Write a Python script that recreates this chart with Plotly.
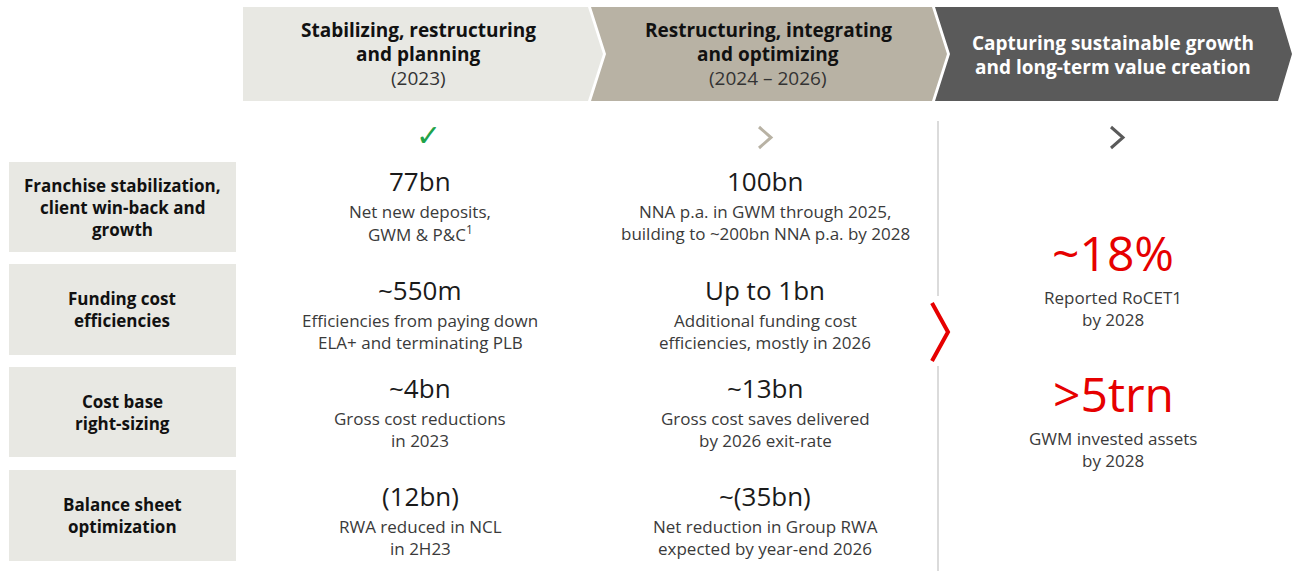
import plotly.graph_objects as go

W, H = 1292, 571

# ---- content -------------------------------------------------------------
phase_titles = [["Stabilizing, restructuring", "and planning"],
                ["Restructuring, integrating", "and optimizing"],
                ["Capturing sustainable growth", "and long-term value creation"]]
phase_years = ["(2023)", "(2024 – 2026)", ""]

row_labels = [["Franchise stabilization,", "client win-back and", "growth"],
              ["Funding cost", "efficiencies"],
              ["Cost base", "right-sizing"],
              ["Balance sheet", "optimization"]]

values_2023 = ["77bn", "~550m", "~4bn", "(12bn)"]
notes_2023 = [["Net new deposits,", "GWM & P&C<sup>1</sup>"],
              ["Efficiencies from paying down", "ELA+ and terminating PLB"],
              ["Gross cost reductions", "in 2023"],
              ["RWA reduced in NCL", "in 2H23"]]

values_2026 = ["100bn", "Up to 1bn", "~13bn", "~(35bn)"]
notes_2026 = [["NNA p.a. in GWM through 2025,", "building to ~200bn NNA p.a. by 2028"],
              ["Additional funding cost", "efficiencies, mostly in 2026"],
              ["Gross cost saves delivered", "by 2026 exit-rate"],
              ["Net reduction in Group RWA", "expected by year-end 2026"]]

targets = ["~18%", ">5trn"]
target_notes = [["Reported RoCET1", "by 2028"],
                ["GWM invested assets", "by 2028"]]

# ---- style ---------------------------------------------------------------
FONT = "Open Sans"
LIGHT = "#e8e8e3"
TAN = "#b8b2a4"
DARK = "#5a5a5a"
RED = "#e60000"
GREEN = "#1fa34a"
TXT = "#3a3a3a"

fig = go.Figure()
fig.add_trace(go.Scatter(x=[0, W], y=[0, H], mode="markers",
                         marker=dict(opacity=0), hoverinfo="skip", showlegend=False))

shapes = []
annots = []


def txt(x, y, s, size, color="#111", bold=False, yanchor="middle"):
    annots.append(dict(x=x, y=y, xref="x", yref="y", text=s, showarrow=False,
                       xanchor="center", yanchor=yanchor,
                       font=dict(family=FONT, size=size, color=color,
                                 weight="bold" if bold else "normal")))


def path(d, fill=None, line=None, width=0):
    shapes.append(dict(type="path", path=d, xref="x", yref="y",
                       fillcolor=fill if fill else "rgba(0,0,0,0)",
                       line=dict(color=line if line else "rgba(0,0,0,0)", width=width),
                       layer="below"))


# header chevrons
y0, y1 = 7, 101
ym = (y0 + y1) / 2
path(f"M243,{y0} L588,{y0} L603,{ym} L588,{y1} L243,{y1} Z", fill=LIGHT)
path(f"M591,{y0} L932,{y0} L947,{ym} L932,{y1} L591,{y1} L606,{ym} Z", fill=TAN)
path(f"M935,{y0} L1278,{y0} L1292,{ym} L1278,{y1} L935,{y1} L950,{ym} Z", fill=DARK)

col_x = [420, 765, 1113]
head_x = [418, 768, 1113]
for i in range(3):
    color = "white" if i == 2 else "#111"
    lines = phase_titles[i]
    if phase_years[i]:
        txt(head_x[i], 30, lines[0], 19, color, bold=True)
        txt(head_x[i], 54, lines[1], 19, color, bold=True)
        txt(head_x[i], 78, phase_years[i], 19, "#333")
    else:
        txt(head_x[i], 43, lines[0], 19, color, bold=True)
        txt(head_x[i], 67, lines[1], 19, color, bold=True)

# status icons
txt(428, 134, "✓", 30, GREEN)
path("M759,127 L771,137.5 L759,148", line=TAN, width=3)
path("M1111,127 L1123,137.5 L1111,148", line=DARK, width=3)

# row label boxes
rows = [(162, 252), (264, 355), (367, 457), (470, 561)]
for (ra, rb), lab in zip(rows, row_labels):
    shapes.append(dict(type="rect", x0=9, x1=236, y0=ra, y1=rb, xref="x", yref="y",
                       fillcolor=LIGHT, line=dict(width=0), layer="below"))
    c = (ra + rb) / 2
    n = len(lab)
    for k, s in enumerate(lab):
        txt(122, c + (k - (n - 1) / 2) * 22, s, 17, "#111", bold=True)

# values per row
val_y = [181, 290, 388, 496]
for r in range(4):
    vy = val_y[r]
    txt(col_x[0], vy, values_2023[r], 26, "#1a1a1a")
    txt(col_x[1], vy, values_2026[r], 26, "#1a1a1a")
    for k in range(2):
        txt(col_x[0], vy + 30 + k * 22, notes_2023[r][k], 17, TXT)
        txt(col_x[1], vy + 30 + k * 22, notes_2026[r][k], 17, TXT)

# separator with red chevron
shapes.append(dict(type="line", x0=938, x1=938, y0=121, y1=296, xref="x", yref="y",
                   line=dict(color="#cfcfcf", width=1.5)))
shapes.append(dict(type="line", x0=938, x1=938, y0=366, y1=571, xref="x", yref="y",
                   line=dict(color="#cfcfcf", width=1.5)))
path("M932,303 L948,332 L932,361", line=RED, width=4)

# targets
tgt_y = [287, 428]
for t in range(2):
    txt(1113, tgt_y[t], targets[t], 48, RED, yanchor="bottom")
    for k in range(2):
        txt(1113, tgt_y[t] + 10 + k * 22, target_notes[t][k], 17, TXT)

fig.update_layout(
    width=W, height=H, margin=dict(l=0, r=0, t=0, b=0),
    paper_bgcolor="white", plot_bgcolor="white",
    xaxis=dict(range=[0, W], visible=False, fixedrange=True),
    yaxis=dict(range=[H, 0], visible=False, fixedrange=True),
    shapes=shapes, annotations=annots, showlegend=False,
)

fig.write_html("out.html", config={"displayModeBar": False},
               post_script="document.body.style.margin='0';document.body.style.overflow='hidden';")
